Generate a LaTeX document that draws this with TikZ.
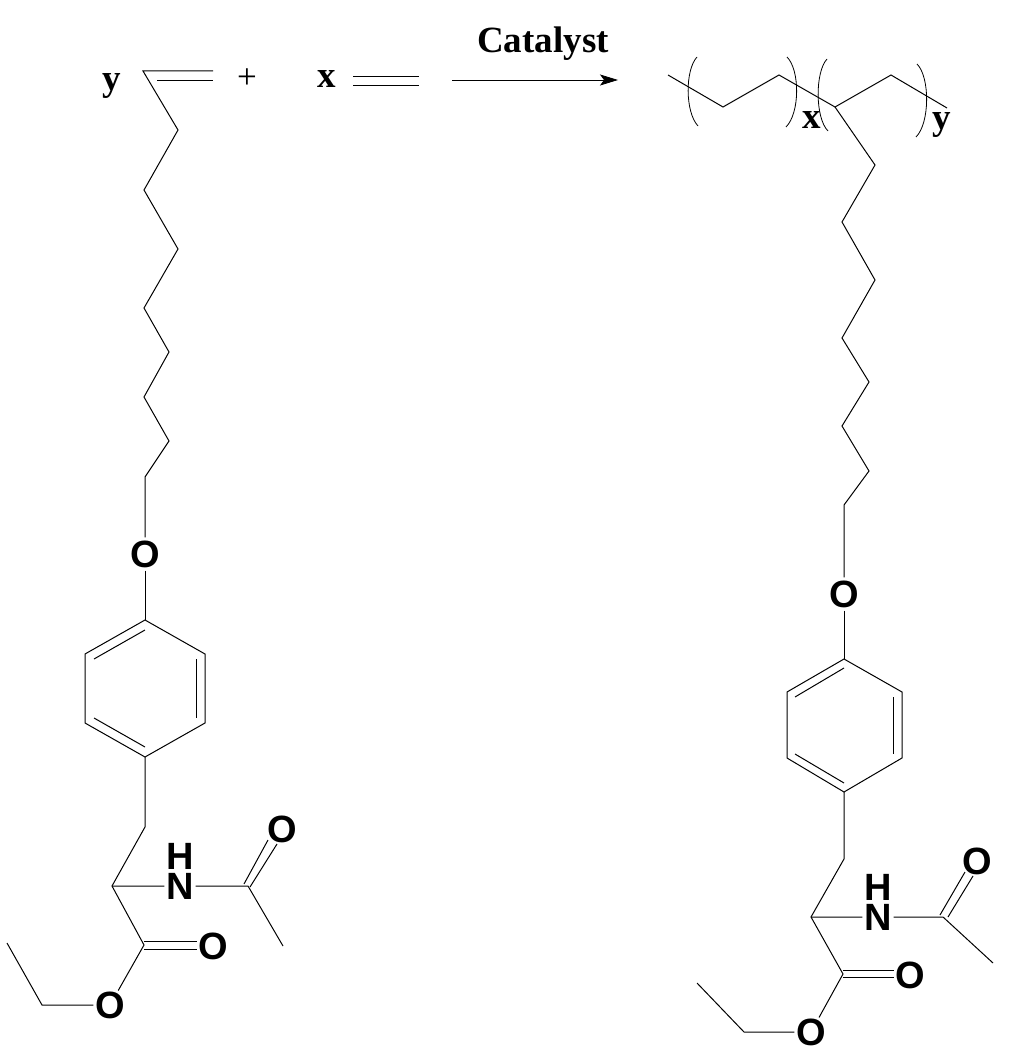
\documentclass[tikz,border=0pt]{standalone}
\usepackage{fontspec}
\newfontfamily\serifface{Liberation Serif}
\newfontfamily\atomface{Liberation Sans}
\usepackage{tikz}
\usetikzlibrary{arrows.meta}
\tikzset{
  bond/.style={line width=1pt, line join=miter},
  paren/.style={line width=.8pt},
  atom/.style={circle, inner sep=-2.5pt, font=\atomface\bfseries\fontsize{38}{38}\selectfont},
  hatom/.style={inner sep=0pt, font=\atomface\bfseries\fontsize{38}{38}\selectfont},
  tag/.style={anchor=base, inner sep=0pt, font=\serifface\bfseries\fontsize{37}{37}\selectfont}
}
\begin{document}
\begin{tikzpicture}[x=1pt, y=-1pt]
\useasboundingbox (0,0) rectangle (1024,1056);

% left monomer
\coordinate (a1) at (143,71);
\coordinate (a2) at (178,130);
\coordinate (a3) at (144,190);
\coordinate (a4) at (178,249);
\coordinate (a5) at (144,308);
\coordinate (a6) at (169,352);
\coordinate (a7) at (144,397);
\coordinate (a8) at (169,441);
\coordinate (a9) at (145,477);
\coordinate (vinylA) at (213,71);
\coordinate (vinylB) at (157,81);
\coordinate (vinylC) at (213,81);
\node[atom] (Oa) at (145,554) {O};
\coordinate (ra1) at (145,620);
\coordinate (ra2) at (205,654);
\coordinate (ra3) at (205,723);
\coordinate (ra4) at (145,757);
\coordinate (ra5) at (85,723);
\coordinate (ra6) at (85,654);
\coordinate (ia1) at (94,659);
\coordinate (ia2) at (145,630);
\coordinate (ia3) at (94,718);
\coordinate (ia4) at (145,747);
\coordinate (ia5) at (196,659);
\coordinate (ia6) at (196,718);
\coordinate (ca1) at (145,827);
\coordinate (ca2) at (112,886);
\coordinate (ca3) at (144,945);
\node[atom] (Na) at (180,886) {N};
\node[hatom] (Ha) at (180,856) {H};
\coordinate (ca4) at (248,886);
\coordinate (ca5) at (283,946);
\node[atom] (Ob) at (282,829) {O};
\coordinate (da1) at (244,884);
\coordinate (da2) at (268,840);
\coordinate (da3) at (250,887);
\coordinate (da4) at (277,844);
\node[atom] (Oc) at (213,946) {O};
\coordinate (da5) at (144,941);
\coordinate (da6) at (197,941);
\coordinate (da7) at (144,949);
\coordinate (da8) at (197,949);
\node[atom] (Od) at (110,1005) {O};
\coordinate (ca6) at (42,1005);
\coordinate (ca7) at (7,943);

\draw[bond] (vinylA) -- (a1) -- (a2) -- (a3) -- (a4) -- (a5) -- (a6) -- (a7) -- (a8) -- (a9) -- (Oa);
\draw[bond] (vinylB) -- (vinylC);
\draw[bond] (Oa) -- (ra1);
\draw[bond] (ra1) -- (ra2) -- (ra3) -- (ra4) -- (ra5) -- (ra6) -- cycle;
\draw[bond] (ia1) -- (ia2);
\draw[bond] (ia3) -- (ia4);
\draw[bond] (ia5) -- (ia6);
\draw[bond] (ra4) -- (ca1) -- (ca2) -- (ca3) -- (Od) -- (ca6) -- (ca7);
\draw[bond] (ca2) -- (Na) -- (ca4) -- (ca5);
\draw[bond] (da1) -- (da2);
\draw[bond] (da3) -- (da4);
\draw[bond] (da5) -- (da6);
\draw[bond] (da7) -- (da8);

% middle
\node[tag] (ytag) at (112,91) {y};
\node[font=\serifface\fontsize{35}{35}\selectfont, inner sep=0pt] (plus) at (247,79) {+};
\node[tag] (xtag) at (327,88) {x};
\coordinate (eA) at (353,77);
\coordinate (eB) at (419,77);
\coordinate (eC) at (353,86);
\coordinate (eD) at (419,86);
\draw[bond] (eA) -- (eB);
\draw[bond] (eC) -- (eD);
\node[tag] (catalyst) at (543,53) {Catalyst};
\coordinate (arrowA) at (452,80);
\coordinate (arrowB) at (618,80);
\draw[line width=.8pt, -{Stealth[length=18pt, width=11pt, inset=4pt]}] (arrowA) -- (arrowB);

% right polymer
\coordinate (b1) at (668,75);
\coordinate (b2) at (723,107);
\coordinate (b3) at (779,75);
\coordinate (b4) at (835,107);
\coordinate (b5) at (891,75);
\coordinate (b6) at (947,108);
\coordinate (s1) at (875,165);
\coordinate (s2) at (842,222);
\coordinate (s3) at (875,280);
\coordinate (s4) at (842,338);
\coordinate (s5) at (869,382);
\coordinate (s6) at (842,426);
\coordinate (s7) at (869,471);
\coordinate (s8) at (844,505);
\node[atom] (Oe) at (844,594) {O};
\coordinate (rb1) at (844,659);
\coordinate (rb2) at (902,692);
\coordinate (rb3) at (902,758);
\coordinate (rb4) at (844,792);
\coordinate (rb5) at (787,758);
\coordinate (rb6) at (787,692);
\coordinate (ib1) at (795,697);
\coordinate (ib2) at (844,668);
\coordinate (ib3) at (795,754);
\coordinate (ib4) at (844,783);
\coordinate (ib5) at (893,697);
\coordinate (ib6) at (893,754);
\coordinate (cb1) at (844,859);
\coordinate (cb2) at (811,917);
\coordinate (cb3) at (843,974);
\node[atom] (Nb) at (878,917) {N};
\node[hatom] (Hb) at (878,887) {H};
\coordinate (cb4) at (943,917);
\coordinate (cb5) at (993,963);
\node[atom] (Of) at (977,861) {O};
\coordinate (db1) at (940,915);
\coordinate (db2) at (965,872);
\coordinate (db3) at (948,917);
\coordinate (db4) at (973,876);
\node[atom] (Og) at (910,975) {O};
\coordinate (db5) at (843,970);
\coordinate (db6) at (894,970);
\coordinate (db7) at (843,977);
\coordinate (db8) at (894,977);
\node[atom] (Oh) at (811,1032) {O};
\coordinate (cb6) at (744,1032);
\coordinate (cb7) at (697,983);

\draw[bond] (b1) -- (b2) -- (b3) -- (b4) -- (b5) -- (b6);
\draw[bond] (b4) -- (s1) -- (s2) -- (s3) -- (s4) -- (s5) -- (s6) -- (s7) -- (s8) -- (Oe);
\draw[bond] (Oe) -- (rb1);
\draw[bond] (rb1) -- (rb2) -- (rb3) -- (rb4) -- (rb5) -- (rb6) -- cycle;
\draw[bond] (ib1) -- (ib2);
\draw[bond] (ib3) -- (ib4);
\draw[bond] (ib5) -- (ib6);
\draw[bond] (rb4) -- (cb1) -- (cb2) -- (cb3) -- (Oh) -- (cb6) -- (cb7);
\draw[bond] (cb2) -- (Nb) -- (cb4) -- (cb5);
\draw[bond] (db1) -- (db2);
\draw[bond] (db3) -- (db4);
\draw[bond] (db5) -- (db6);
\draw[bond] (db7) -- (db8);

% brackets
\draw[paren] (697,57) .. controls (685,70) and (685,112) .. (698,126);
\draw[paren] (787,57) .. controls (800,70) and (800,113) .. (786,127);
\draw[paren] (827,59) .. controls (815,72) and (815,118) .. (828,131);
\draw[paren] (917,64) .. controls (930,77) and (930,123) .. (916,137);
\node[tag] (xsub) at (812,129) {x};
\node[tag] (ysub) at (942,130) {y};
\end{tikzpicture}
\end{document}
